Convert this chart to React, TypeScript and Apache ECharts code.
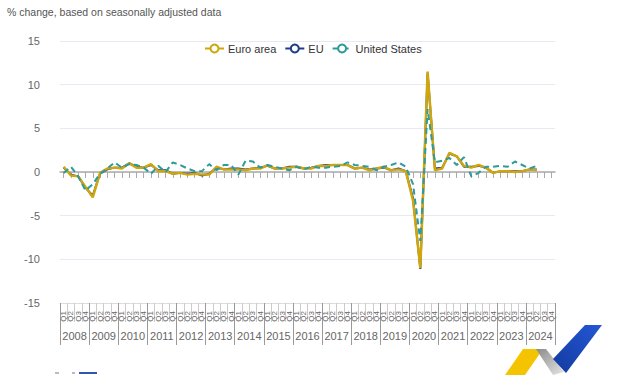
import React, { useEffect, useRef } from "react";
import * as echarts from "echarts";

const years = ["2008","2009","2010","2011","2012","2013","2014","2015","2016","2017","2018","2019","2020","2021","2022","2023","2024"];
const quarters = ["Q1","Q2","Q3","Q4"];
const yTicks = { min: -15, max: 15, step: 5 };

const euroArea = [
  0.6, -0.4, -0.5, -1.7,
  -2.9, -0.1, 0.4, 0.5,
  0.4, 1.0, 0.5, 0.5,
  0.9, 0.1, 0.1, -0.2,
  -0.1, -0.3, -0.2, -0.3,
  -0.3, 0.6, 0.3, 0.3,
  0.3, 0.2, 0.4, 0.4,
  0.8, 0.4, 0.4, 0.5,
  0.6, 0.4, 0.4, 0.7,
  0.7, 0.8, 0.8, 0.8,
  0.4, 0.5, 0.2, 0.4,
  0.6, 0.2, 0.3, 0.1,
  -3.3, -11.0, 11.5, 0.2,
  0.4, 2.2, 1.8, 0.7,
  0.5, 0.8, 0.5, -0.1,
  0.1, 0.1, 0.0, 0.1,
  0.3, 0.2,
];

const eu = [
  0.5, -0.3, -0.5, -1.8,
  -2.7, -0.2, 0.3, 0.5,
  0.5, 1.0, 0.6, 0.5,
  0.8, 0.2, 0.2, -0.2,
  -0.1, -0.2, -0.1, -0.4,
  -0.2, 0.5, 0.3, 0.4,
  0.4, 0.3, 0.4, 0.5,
  0.7, 0.4, 0.4, 0.6,
  0.6, 0.4, 0.5, 0.7,
  0.8, 0.8, 0.8, 0.8,
  0.4, 0.5, 0.3, 0.4,
  0.5, 0.2, 0.4, 0.1,
  -3.0, -11.1, 11.3, 0.4,
  0.5, 2.1, 1.8, 0.6,
  0.6, 0.7, 0.5, -0.1,
  0.1, 0.1, 0.1, 0.1,
  0.3, 0.3,
];

const unitedStates = [
  -0.1, 0.6, -0.5, -2.1,
  -1.4, -0.2, 0.4, 1.1,
  0.5, 0.9, 0.8, 0.5,
  -0.2, 0.7, 0.0, 1.1,
  0.8, 0.4, 0.1, 0.1,
  0.9, 0.2, 0.8, 0.8,
  -0.3, 1.3, 1.2, 0.5,
  0.8, 0.6, 0.4, 0.2,
  0.6, 0.3, 0.6, 0.5,
  0.5, 0.6, 0.7, 1.1,
  0.8, 0.7, 0.6, 0.2,
  0.6, 0.8, 1.1, 0.6,
  -1.4, -7.9, 7.2, 1.1,
  1.3, 1.6, 0.8, 1.7,
  -0.5, -0.1, 0.6, 0.6,
  0.7, 0.6, 1.2, 0.8,
  0.4, 0.7,
];

const categories = years.flatMap((y) => quarters.map((q) => `${y} ${q}`));

const FONT = "Liberation Sans, Arial, sans-serif";

export default function App() {
  const ref = useRef<HTMLDivElement>(null);

  useEffect(() => {
    if (!ref.current) return;
    const chart = echarts.init(ref.current, undefined, { renderer: "svg" });
    chart.setOption({
      animation: false,
      textStyle: { fontFamily: FONT },
      title: {
        text: "% change, based on seasonally adjusted data",
        left: 2,
        top: 1,
        textStyle: { fontSize: 10.5, fontWeight: "normal", color: "#555", fontFamily: FONT },
      },
      legend: {
        top: 38,
        left: 199,
        itemWidth: 19,
        itemHeight: 10,
        itemGap: 8,
        textStyle: { fontSize: 11, color: "#333", fontFamily: FONT, padding: [0, 0, 0, -1] },
        data: ["Euro area", "EU", "United States"],
      },
      grid: { left: 60, right: 83, top: 41, bottom: 72, containLabel: false },
      yAxis: {
        type: "value",
        min: yTicks.min,
        max: yTicks.max,
        interval: yTicks.step,
        axisLine: { show: false },
        axisTick: { show: false },
        axisLabel: { color: "#666", fontSize: 11, margin: 20 },
        splitLine: { lineStyle: { color: "#e6e9f2", width: 1 } },
      },
      xAxis: [
        {
          type: "category",
          data: categories,
          boundaryGap: true,
          position: "bottom",
          axisLine: { onZero: true, lineStyle: { color: "#aaa", width: 1.5 } },
          axisTick: { show: true, alignWithLabel: true, interval: 0, length: 6, lineStyle: { color: "#aaa" } },
          axisLabel: { show: false },
          splitLine: { show: false },
        },
        {
          type: "category",
          data: categories,
          boundaryGap: true,
          position: "bottom",
          axisLine: { onZero: false, lineStyle: { color: "#ddd", width: 1 } },
          axisTick: { show: true, interval: 0, length: 19, lineStyle: { color: "#ccc" } },
          axisLabel: {
            interval: 0,
            rotate: 90,
            fontSize: 8,
            color: "#666",
            margin: 8,
            formatter: (v: string) => v.split(" ")[1],
          },
        },
        {
          type: "category",
          data: years,
          boundaryGap: true,
          position: "bottom",
          axisLine: { show: false, onZero: false },
          axisTick: { show: true, interval: 0, length: 42, lineStyle: { color: "#999" } },
          axisLabel: { interval: 0, fontSize: 11, color: "#666", margin: 27 },
        },
      ],
      series: [
        {
          name: "Euro area",
          type: "line",
          xAxisIndex: 0,
          data: euroArea,
          symbol: "emptyCircle",
          symbolSize: 8,
          showSymbol: false,
          z: 3,
          color: "#cfa60c",
          lineStyle: { width: 2.5, color: "#cfa60c" },
        },
        {
          name: "EU",
          type: "line",
          xAxisIndex: 0,
          data: eu,
          symbol: "emptyCircle",
          symbolSize: 8,
          showSymbol: false,
          z: 2,
          color: "#1f3c8f",
          lineStyle: { width: 2, color: "#1f3c8f" },
        },
        {
          name: "United States",
          type: "line",
          xAxisIndex: 0,
          data: unitedStates,
          symbol: "emptyCircle",
          symbolSize: 8,
          showSymbol: false,
          z: 4,
          color: "#2e9a9a",
          lineStyle: { width: 2, color: "#2e9a9a", type: [6, 4] },
        },
      ],
      graphic: [
        { type: "polygon", shape: { points: [[505, 375], [523, 349], [543, 349], [525, 375]] }, style: { fill: "#f5c400" }, silent: true },
        {
          type: "polygon",
          shape: { points: [[536, 349], [546, 349], [564, 372], [553, 375]] },
          style: {
            fill: new echarts.graphic.LinearGradient(0, 0, 1, 1, [
              { offset: 0, color: "#8a8a8a" },
              { offset: 1, color: "#e6e6e6" },
            ]),
          },
          silent: true,
        },
        {
          type: "polygon",
          shape: { points: [[585, 325], [602, 325], [566, 373], [553, 359]] },
          style: {
            fill: new echarts.graphic.LinearGradient(1, 0, 0, 1, [
              { offset: 0, color: "#2457d6" },
              { offset: 1, color: "#133a9e" },
            ]),
          },
          silent: true,
        },
        { type: "rect", shape: { x: 55, y: 372, width: 4, height: 2 }, style: { fill: "#bbb" }, silent: true },
        { type: "rect", shape: { x: 72, y: 372, width: 3, height: 2 }, style: { fill: "#bbb" }, silent: true },
        { type: "rect", shape: { x: 79, y: 372, width: 18, height: 2 }, style: { fill: "#2f55b5" }, silent: true },
      ],
    });
    return () => chart.dispose();
  }, []);

  return (
    <div
      ref={ref}
      style={{ position: "fixed", left: 0, top: 0, width: 638, height: 375, background: "#fff" }}
    />
  );
}
